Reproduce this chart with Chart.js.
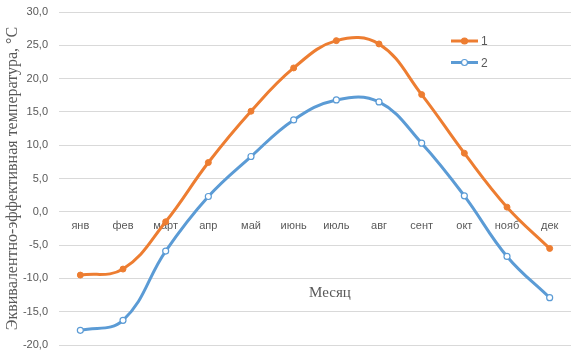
<!DOCTYPE html>
<html>
<head>
<meta charset="utf-8">
<script src="https://cdn.jsdelivr.net/npm/chart.js@4"></script>
<style>
  html, body { margin: 0; padding: 0; background: #fff; }
  #wrap { width: 571px; height: 352px; }
</style>
</head>
<body>
<div id="wrap"><canvas id="tempChart"></canvas></div>
<script>
const months = ['янв', 'фев', 'март', 'апр', 'май', 'июнь', 'июль', 'авг', 'сент', 'окт', 'нояб', 'дек'];
const series1 = [-9.5, -8.6, -1.5, 7.4, 15.1, 21.6, 25.7, 25.2, 17.6, 8.8, 0.7, -5.5];
const series2 = [-17.8, -16.3, -5.9, 2.3, 8.3, 13.8, 16.8, 16.5, 10.3, 2.4, -6.7, -12.9];
const seriesNames = ['1', '2'];

let tempChart = document.getElementById("tempChart");

// легенда и подпись оси X рисуются вручную
const extraText = {
  id: 'extraText',
  afterDraw(chart) {
    const ctx = chart.ctx;
    const y = chart.scales.y;
    ctx.save();
    // легенда
    chart.data.datasets.forEach((ds, i) => {
      const ly = 41 + i * 21.5;
      ctx.strokeStyle = ds.borderColor;
      ctx.lineWidth = 3;
      ctx.beginPath();
      ctx.moveTo(451, ly);
      ctx.lineTo(478, ly);
      ctx.stroke();
      ctx.beginPath();
      ctx.arc(464.5, ly, 3, 0, Math.PI * 2);
      ctx.fillStyle = ds.pointBackgroundColor;
      ctx.fill();
      ctx.lineWidth = 1.2;
      ctx.stroke();
      ctx.fillStyle = '#595959';
      ctx.font = '12px "Liberation Sans"';
      ctx.textBaseline = 'middle';
      ctx.fillText(ds.label, 481, ly + 1);
    });
    // подпись оси X
    ctx.fillStyle = '#595959';
    ctx.font = '15px "Liberation Serif"';
    ctx.textAlign = 'center';
    ctx.textBaseline = 'middle';
    ctx.fillText('Месяц', 330, y.getPixelForValue(-12.2));
    ctx.restore();
  }
};

const dataTemp = {
  labels: months,
  datasets: [
    {
      label: seriesNames[0],
      data: series1,
      borderColor: '#ED7D31',
      backgroundColor: '#ED7D31',
      pointBackgroundColor: '#ED7D31',
      pointBorderColor: '#ED7D31',
      borderWidth: 3,
      pointRadius: 3,
      pointBorderWidth: 1,
      tension: 0.4,
    },
    {
      label: seriesNames[1],
      data: series2,
      borderColor: '#5B9BD5',
      backgroundColor: '#ffffff',
      pointBackgroundColor: '#ffffff',
      pointBorderColor: '#5B9BD5',
      borderWidth: 3,
      pointRadius: 3,
      pointBorderWidth: 1.2,
      tension: 0.4,
    },
  ]
};

const configTemp = {
  type: 'line',
  data: dataTemp,
  options: {
    responsive: true,
    maintainAspectRatio: false,
    animation: false,
    layout: { autoPadding: false, padding: { top: 12, bottom: 7, right: 0, left: 0 } },
    plugins: {
      legend: { display: false },
      tooltip: { enabled: false }
    },
    scales: {
      x: {
        position: { y: 0 },
        offset: true,
        grid: { display: false, drawTicks: false, offset: true },
        border: { display: false },
        ticks: {
          color: '#595959',
          font: { family: 'Liberation Sans', size: 11 },
          padding: 8,
          maxRotation: 0,
          autoSkip: false
        },
        afterFit(scale) {
          scale.height = 0;
          scale.paddingLeft = 0;
          scale.paddingRight = 0;
          scale.paddingTop = 0;
          scale.paddingBottom = 0;
        }
      },
      y: {
        min: -20,
        max: 30,
        ticks: {
          stepSize: 5,
          color: '#595959',
          font: { family: 'Liberation Sans', size: 11 },
          padding: 11,
          callback: v => v.toFixed(1).replace('.', ',')
        },
        grid: { color: '#d9d9d9', drawTicks: false },
        border: { display: false },
        title: {
          display: true,
          text: 'Эквивалентно-эффективная температура, °С',
          color: '#595959',
          font: { family: 'Liberation Serif', size: 16 },
          padding: { top: 3, bottom: 2 }
        },
        afterFit(scale) {
          scale.width = 59;
          scale.paddingTop = 0;
          scale.paddingBottom = 0;
        }
      }
    }
  },
  plugins: [extraText]
};

let tempChartGraph = new Chart(tempChart, configTemp);
</script>
</body>
</html>
